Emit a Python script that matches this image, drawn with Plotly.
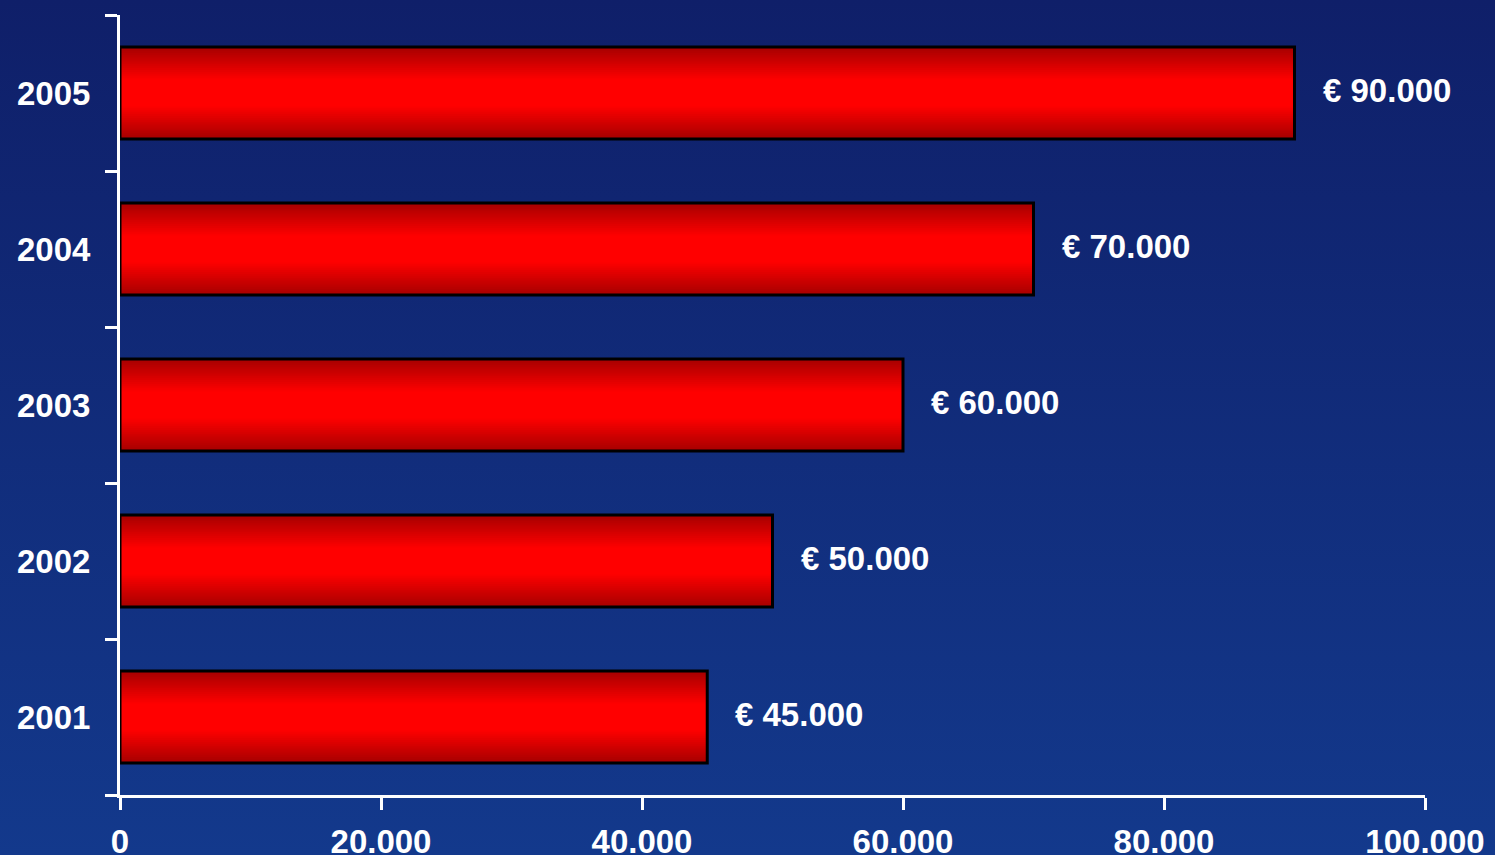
import base64
import plotly.graph_objects as go

# ---- data ----
years = ["2001", "2002", "2003", "2004", "2005"]
values = [45000, 50000, 60000, 70000, 90000]
x_ticks = [0, 20000, 40000, 60000, 80000, 100000]

W, H = 1495, 855
ML, MR, MT, MB = 120, 70, 15, 60
PW, PH = W - ML - MR, H - MT - MB

FONT = "Liberation Sans, Arial, sans-serif"
BAR_W = 0.59
N_LAYERS = 24

def mix(c1, c2, f):
    return "rgb(%d,%d,%d)" % tuple(round(a + (b - a) * f) for a, b in zip(c1, c2))

DARK = (168, 0, 0)
BRIGHT = (255, 0, 0)

fig = go.Figure()
# vertical gradient inside each bar via stacked overlay layers
for k in range(N_LAYERS):
    t = 1 - k / N_LAYERS  # distance from centre (1 = edge)
    f = min(1.0, (1 - t) / 0.7)
    fig.add_trace(go.Bar(
        y=years, x=values, orientation="h",
        width=BAR_W * t,
        marker=dict(color=mix(DARK, BRIGHT, f), line=dict(width=0)),
        hoverinfo="skip", showlegend=False,
    ))
# outline
fig.add_trace(go.Bar(
    y=years, x=values, orientation="h", width=BAR_W,
    marker=dict(color="rgba(0,0,0,0)", line=dict(color="black", width=3)),
    showlegend=False,
))

for i, (yv, v) in enumerate(zip(years, values)):
    fig.add_annotation(
        x=v, y=i, xref="x", yref="y",
        text="€ " + f"{v:,}".replace(",", "."),
        showarrow=False, xanchor="left", yanchor="middle",
        xshift=26, yshift=3,
        font=dict(family=FONT, size=33, color="white", weight="bold"),
    )

svg = (
    f'<svg xmlns="http://www.w3.org/2000/svg" width="{W}" height="{H}">'
    '<defs><linearGradient id="g" x1="0" y1="0" x2="0" y2="1">'
    '<stop offset="0" stop-color="#0f1f69"/>'
    '<stop offset="1" stop-color="#13398c"/>'
    '</linearGradient></defs>'
    f'<rect width="{W}" height="{H}" fill="url(#g)"/></svg>'
)
uri = "data:image/svg+xml;base64," + base64.b64encode(svg.encode()).decode()
fig.add_layout_image(
    source=uri, xref="paper", yref="paper",
    x=-ML / PW, y=1 + MT / PH, sizex=W / PW, sizey=H / PH,
    xanchor="left", yanchor="top", sizing="stretch", layer="below",
)

axis_font = dict(family=FONT, size=33, color="white", weight="bold")
fig.update_layout(
    width=W, height=H,
    margin=dict(l=ML, r=MR, t=MT, b=MB, pad=0),
    barmode="overlay",
    paper_bgcolor="#112c7a",
    plot_bgcolor="rgba(0,0,0,0)",
    separators=",.",
    xaxis=dict(
        range=[0, 100000], tickvals=x_ticks, tickformat=",d",
        showgrid=False, zeroline=False, automargin=False,
        showline=True, linecolor="white", linewidth=3,
        ticks="outside", ticklen=12, tickwidth=3, tickcolor="white",
        tickfont=axis_font, ticklabelstandoff=3,
    ),
    yaxis=dict(
        type="category", categoryorder="array", categoryarray=years,
        range=[-0.5, 4.5], automargin=False,
        showgrid=False, zeroline=False,
        showline=True, linecolor="white", linewidth=3,
        ticks="outside", tickson="boundaries", ticklen=12, tickwidth=3,
        tickcolor="white", tickfont=axis_font, ticklabelstandoff=20,
    ),
)

fig.write_html(
    "out.html",
    config={"displayModeBar": False},
    post_script="document.body.style.margin='0';document.body.style.overflow='hidden';",
)
